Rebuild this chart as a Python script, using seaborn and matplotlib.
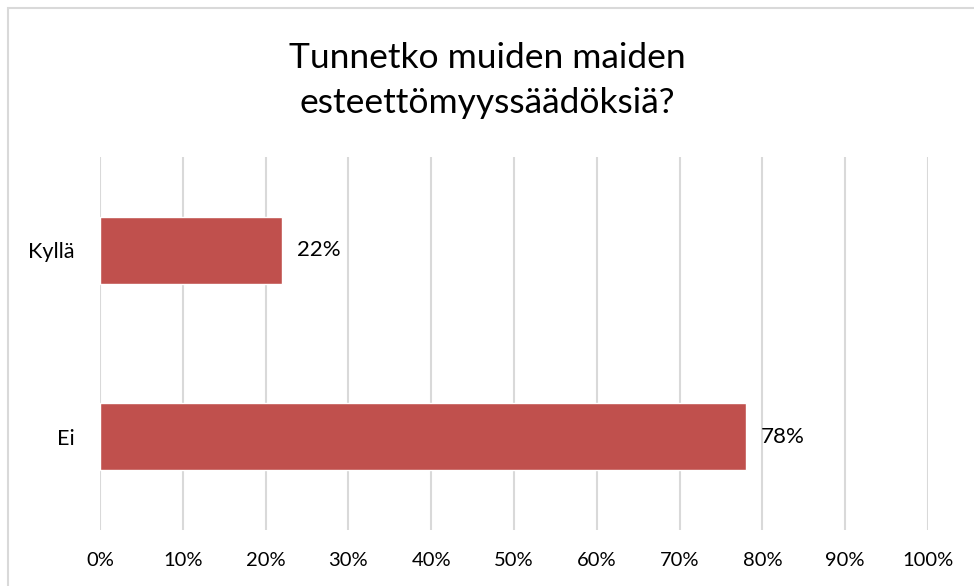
import matplotlib
matplotlib.use("Agg")
import matplotlib.pyplot as plt
import seaborn as sns
import pandas as pd
from matplotlib.patches import Rectangle

# Data
categories = ["Kyllä", "Ei"]
shares = [22, 78]
title = "Tunnetko muiden maiden\nesteettömyyssäädöksiä?"

df = pd.DataFrame({"vastaus": categories, "osuus": shares})

sns.set_theme(style="white")
plt.rcParams["font.family"] = ["Lato", "DejaVu Sans"]

fig = plt.figure(figsize=(9.74, 5.86), dpi=100)
ax = fig.add_axes([100 / 974, 1 - 530 / 586, 828 / 974, 373 / 586])

sns.barplot(data=df, x="osuus", y="vastaus", orient="h", color="#C0504D",
            saturation=1, width=0.36, ax=ax)

ax.set_xlim(0, 100)
ax.set_ylim(1.5, -0.5)
ax.set_xticks(range(0, 101, 10))
ax.set_xticklabels([f"{t}%" for t in range(0, 101, 10)])
ax.xaxis.grid(True, color="#d9d9d9", linewidth=1.5)
ax.set_axisbelow(True)
for s in ax.spines.values():
    s.set_visible(False)
ax.tick_params(axis="x", length=0, pad=16, labelsize=14.5, labelcolor="black")
ax.tick_params(axis="y", length=0, pad=18, labelsize=15.5, labelcolor="black")
ax.set_xlabel("")
ax.set_ylabel("")

# Value labels
for i, v in enumerate(shares):
    ax.text(v + 1.8, i, f"{v}%", va="center", ha="left", fontsize=16, color="black")

fig.suptitle(title, x=0.5, y=1 - 42 / 586, va="top", fontsize=25.5,
             linespacing=1.5, color="black")

# Light frame around the chart
fig.patches.append(Rectangle((8 / 974, -0.1), 1.1, 1 - 8 / 586 + 0.1,
                             transform=fig.transFigure, fill=False,
                             edgecolor="#d9d9d9", linewidth=1.5))

fig.savefig("out.png", dpi=100)
